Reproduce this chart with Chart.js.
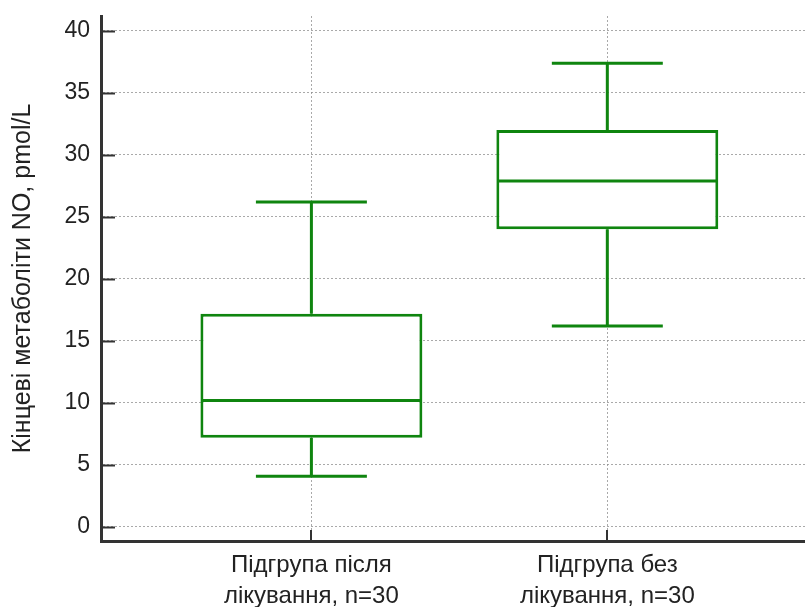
<!DOCTYPE html>
<html>
<head>
<meta charset="utf-8">
<script src="https://cdn.jsdelivr.net/npm/chart.js@4/dist/chart.umd.min.js"></script>
<style>
  html, body { margin: 0; padding: 0; background: #fff; overflow: hidden; }
  canvas { display: block; }
</style>
</head>
<body>
<canvas id="chart" width="805" height="607"></canvas>
<script>
// Groups and their five-number summaries (NO end metabolites, pmol/L)
const categories = [
  ['Підгрупа після', 'лікування, n=30'],
  ['Підгрупа без', 'лікування, n=30']
];
const whiskerLow  = [4.1, 16.2];
const q1          = [7.2, 24.0];
const median      = [10.2, 27.9];
const q3          = [17.2, 32.0];
const whiskerHigh = [26.2, 37.4];
const yTicks = [0, 5, 10, 15, 20, 25, 30, 35, 40];

const BOX_COLOR = '#0f850f';
const AXIS_COLOR = '#333333';
const GRID_COLOR = 'rgba(140,140,140,0.75)';
const FONT = "'Liberation Sans', Arial, sans-serif";

// Whiskers, caps, medians and the inward tick marks
const boxPlotMarks = {
  id: 'boxPlotMarks',
  afterDatasetsDraw(chart) {
    const { ctx, chartArea } = chart;
    const xs = chart.scales.x, ys = chart.scales.y;
    const meta = chart.getDatasetMeta(0);
    ctx.save();
    ctx.lineCap = 'butt';

    // inward ticks
    ctx.strokeStyle = AXIS_COLOR;
    ctx.lineWidth = 2;
    yTicks.forEach(v => {
      const py = Math.round(ys.getPixelForValue(v)) + 0.5;
      ctx.beginPath();
      ctx.moveTo(chartArea.left, py);
      ctx.lineTo(chartArea.left + 14, py);
      ctx.stroke();
    });
    categories.forEach((c, i) => {
      const px = Math.round(xs.getPixelForValue(i + 1));
      ctx.beginPath();
      ctx.moveTo(px, chartArea.bottom);
      ctx.lineTo(px, chartArea.bottom - 11);
      ctx.stroke();
    });

    // box-plot lines
    ctx.strokeStyle = BOX_COLOR;
    ctx.lineWidth = 3;
    categories.forEach((c, i) => {
      const bar = meta.data[i];
      const cx = xs.getPixelForValue(i + 1);
      const boxHalf = bar.width / 2;
      const capHalf = boxHalf / 2;
      const yLo = ys.getPixelForValue(whiskerLow[i]);
      const yHi = ys.getPixelForValue(whiskerHigh[i]);
      const yQ1 = ys.getPixelForValue(q1[i]);
      const yQ3 = ys.getPixelForValue(q3[i]);
      const yMed = ys.getPixelForValue(median[i]);

      ctx.beginPath();
      // upper whisker + cap
      ctx.moveTo(cx, yQ3);
      ctx.lineTo(cx, yHi);
      ctx.moveTo(cx - capHalf, yHi);
      ctx.lineTo(cx + capHalf, yHi);
      // lower whisker + cap
      ctx.moveTo(cx, yQ1);
      ctx.lineTo(cx, yLo);
      ctx.moveTo(cx - capHalf, yLo);
      ctx.lineTo(cx + capHalf, yLo);
      // median
      ctx.moveTo(cx - boxHalf + 1.5, yMed);
      ctx.lineTo(cx + boxHalf - 1.5, yMed);
      ctx.stroke();
    });
    ctx.restore();
  }
};

new Chart(document.getElementById('chart'), {
  type: 'bar',
  data: {
    datasets: [{
      data: categories.map((c, i) => ({ x: i + 1, y: [q1[i], q3[i]] })),
      backgroundColor: '#ffffff',
      borderColor: BOX_COLOR,
      borderWidth: 3,
      borderSkipped: false,
      categoryPercentage: 1,
      barPercentage: 0.75
    }]
  },
  options: {
    responsive: false,
    animation: false,
    layout: { padding: { top: 16, right: 0, bottom: 0, left: 0 } },
    plugins: {
      legend: { display: false },
      tooltip: { enabled: false }
    },
    scales: {
      x: {
        type: 'linear',
        offset: false,
        min: 0.289,
        max: 2.668,
        afterBuildTicks: s => { s.ticks = categories.map((c, i) => ({ value: i + 1 })); },
        afterFit: s => { s.height = 66; s.paddingLeft = 0; s.paddingRight = 0; },
        ticks: {
          autoSkip: false,
          maxRotation: 0,
          padding: 9,
          color: '#222',
          font: { family: FONT, size: 24, lineHeight: 1.3 },
          callback: (v) => categories[Math.round(v) - 1] || ''
        },
        grid: {
          offset: false,
          color: GRID_COLOR,
          lineWidth: 1,
          drawTicks: false
        },
        border: { display: true, color: AXIS_COLOR, width: 3, dash: [2, 2] }
      },
      y: {
        type: 'linear',
        min: -1.13,
        max: 41.2,
        afterBuildTicks: s => { s.ticks = yTicks.map(v => ({ value: v })); },
        afterFit: s => { s.width = 101; s.paddingTop = 0; s.paddingBottom = 0; },
        ticks: {
          padding: 11,
          color: '#222',
          font: { family: FONT, size: 23 }
        },
        grid: {
          color: GRID_COLOR,
          lineWidth: 1,
          drawTicks: false
        },
        border: { display: true, color: AXIS_COLOR, width: 3, dash: [2, 2] },
        title: {
          display: true,
          text: 'Кінцеві метаболіти NO, pmol/L',
          color: '#222',
          font: { family: FONT, size: 25 },
          padding: { top: 8, bottom: 0 }
        }
      }
    }
  },
  plugins: [boxPlotMarks]
});
</script>
</body>
</html>
